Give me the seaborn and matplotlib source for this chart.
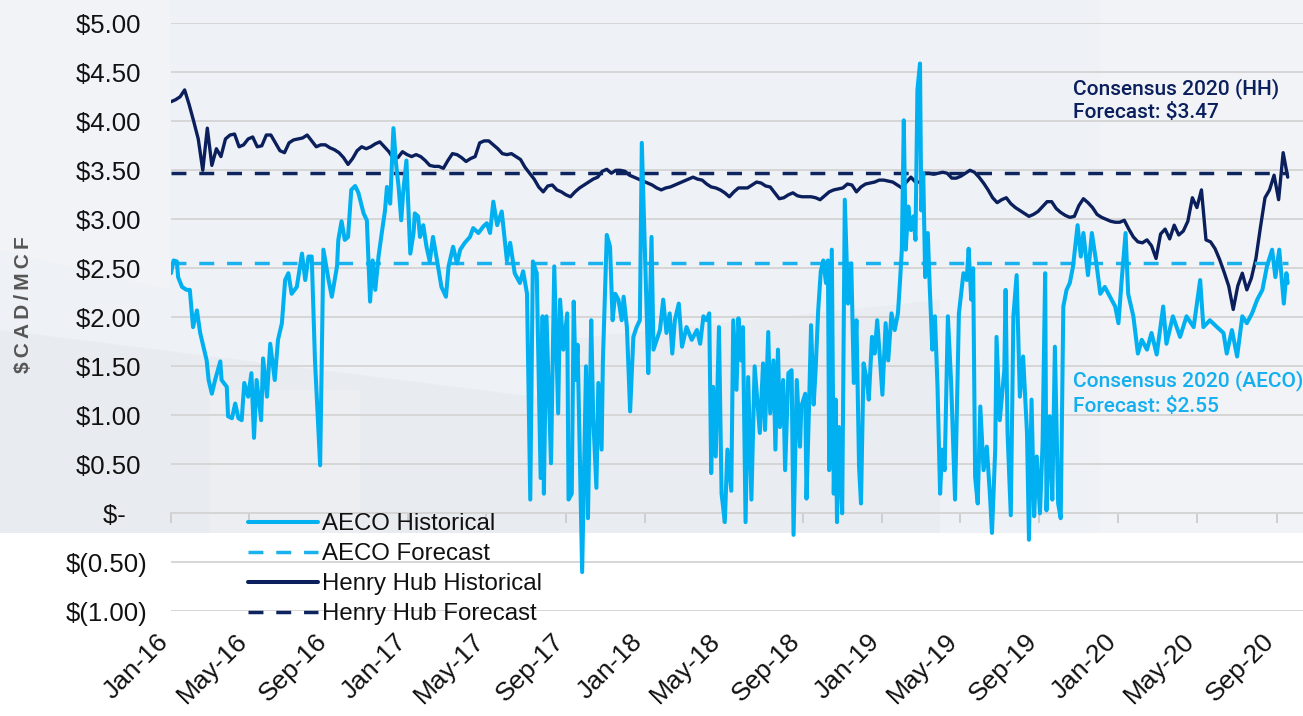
import matplotlib
matplotlib.use("Agg")
import matplotlib.pyplot as plt
import matplotlib.dates as mdates
import matplotlib.transforms as mtransforms
from matplotlib.ticker import FuncFormatter, MultipleLocator
from matplotlib.patches import Rectangle, Polygon
from matplotlib.font_manager import FontProperties
from matplotlib.lines import Line2D
import pandas as pd
import seaborn as sns

# ---------------------------------------------------------------- data
START = pd.Timestamp("2016-01-01")

# AECO daily settlements: day offset from 1 Jan 2016, price in $CAD/MCF
aeco_day = [
    0, 4, 9, 11, 17, 24, 29, 34, 40, 45,
    50, 55, 58, 63, 68, 76, 78, 86, 88, 94,
    99, 104, 109, 113, 119, 124, 128, 132, 139, 142,
    148, 153, 160, 165, 171, 176, 181, 186, 194, 202,
    207, 212, 217, 222, 230, 235, 243, 248, 256, 258,
    263, 268, 273, 278, 284, 289, 297, 302, 307, 311,
    315, 320, 325, 330, 333, 338, 343, 347, 351, 355,
    358, 363, 369, 374, 376, 381, 384, 389, 394, 399,
    404, 411, 417, 424, 428, 435, 441, 446, 453, 461,
    466, 474, 482, 487, 492, 497, 503, 510, 518, 523,
    530, 538, 543, 549, 554, 558, 564, 570, 573, 575,
    579, 586, 591, 597, 600, 605, 611, 613, 618, 621,
    624, 627, 634, 637, 640, 643, 648, 651, 656, 659,
    664, 666, 672, 677, 681, 685, 690, 695, 698, 703,
    708, 713, 718, 723, 726, 730, 734, 736, 741, 744,
    749, 754, 759, 764, 769, 773, 777, 783, 788, 795,
    803, 811, 816, 821, 826, 830, 833, 836, 840, 845,
    849, 854, 858, 864, 867, 872, 875, 879, 882, 886,
    890, 895, 900, 908, 913, 916, 921, 924, 929, 932,
    936, 939, 944, 947, 952, 957, 960, 965, 970, 972,
    978, 980, 984, 987, 991, 994, 998, 1002, 1006, 1010,
    1013, 1015, 1019, 1022, 1025, 1027, 1030, 1035, 1039, 1044,
    1049, 1053, 1057, 1061, 1064, 1068, 1073, 1076, 1081, 1085,
    1089, 1093, 1097, 1102, 1106, 1111, 1116, 1121, 1124, 1127,
    1130, 1133, 1137, 1141, 1145, 1148, 1151, 1155, 1157, 1160,
    1163, 1167, 1170, 1174, 1178, 1182, 1186, 1189, 1193, 1198,
    1203, 1209, 1215, 1222, 1227, 1230, 1234, 1237, 1240, 1244,
    1248, 1253, 1258, 1263, 1266, 1271, 1273, 1278, 1285, 1287,
    1290, 1295, 1299, 1304, 1309, 1314, 1320, 1323, 1327, 1331,
    1335, 1340, 1344, 1348, 1350, 1355, 1359, 1363, 1368, 1372,
    1376, 1381, 1386, 1391, 1398, 1403, 1407, 1414, 1420, 1427,
    1433, 1440, 1448, 1456, 1461, 1466, 1472, 1476, 1484, 1491,
    1497, 1505, 1512, 1520, 1530, 1535, 1545, 1556, 1566, 1577,
    1587, 1592, 1602, 1613, 1623, 1628, 1636, 1644, 1652, 1659,
    1667, 1675, 1683, 1690, 1698, 1703, 1709, 1716, 1720, 1722,
]
aeco_price = [
    2.45, 2.58, 2.57, 2.41, 2.31, 2.28, 2.28, 1.90, 2.07, 1.84,
    1.70, 1.56, 1.36, 1.22, 1.36, 1.55, 1.36, 1.29, 0.99, 0.97,
    1.12, 0.97, 0.95, 1.33, 1.19, 1.43, 0.77, 1.36, 0.95, 1.58,
    1.19, 1.73, 1.36, 1.77, 1.94, 2.38, 2.45, 2.24, 2.31, 2.65,
    2.38, 2.62, 2.62, 1.56, 0.49, 2.69, 2.38, 2.21, 2.52, 2.79,
    2.98, 2.79, 2.82, 3.30, 3.34, 3.27, 3.06, 2.99, 2.16, 2.58,
    2.28, 2.62, 2.86, 3.09, 3.33, 3.16, 3.93, 3.57, 3.33, 2.99,
    3.27, 3.60, 2.65, 2.86, 3.06, 3.03, 2.82, 2.94, 2.72, 2.57,
    2.82, 2.55, 2.31, 2.21, 2.52, 2.72, 2.55, 2.69, 2.76, 2.82,
    2.91, 2.86, 2.93, 2.96, 2.86, 3.18, 2.94, 3.08, 2.58, 2.76,
    2.45, 2.35, 2.47, 2.24, 0.14, 2.57, 2.45, 0.36, 2.01, 0.20,
    2.01, 0.51, 2.52, 1.02, 2.18, 1.67, 2.04, 0.14, 0.20, 2.16,
    1.36, 1.72, -0.60, 0.44, 1.50, -0.05, 1.97, 0.99, 0.26, 1.33,
    0.65, 1.56, 2.84, 2.72, 1.97, 2.24, 2.18, 1.97, 2.21, 1.90,
    1.04, 1.80, 1.90, 1.97, 3.78, 2.86, 1.94, 1.43, 2.82, 1.67,
    1.77, 1.87, 2.18, 1.84, 2.04, 1.63, 1.97, 2.14, 1.70, 1.90,
    1.77, 1.87, 1.73, 2.01, 1.97, 2.04, 0.41, 1.29, 0.58, 1.90,
    0.20, -0.09, 0.65, 0.23, 1.97, 1.26, 1.99, 1.56, 1.90, -0.09,
    1.39, 0.14, 1.50, 0.82, 1.53, 0.85, 1.85, 1.02, 1.56, 0.65,
    1.67, 0.88, 1.36, 0.44, 1.43, 1.46, -0.22, 1.36, 0.68, 1.09,
    1.22, 0.15, 1.12, 1.92, 1.11, 1.46, 2.07, 2.47, 2.58, 2.35,
    2.58, 0.44, 2.69, 0.20, 1.16, -0.09, 0.88, 0.00, 3.20, 2.14,
    2.55, 1.33, 1.97, 0.48, 0.10, 1.53, 1.36, 1.16, 1.80, 1.63,
    1.97, 1.60, 1.21, 1.94, 1.56, 2.04, 1.87, 2.04, 2.35, 2.69,
    4.01, 2.69, 3.13, 2.89, 3.03, 2.79, 4.32, 4.59, 3.09, 3.47,
    2.41, 2.86, 2.31, 1.67, 2.01, 1.29, 0.20, 0.65, 0.44, 2.01,
    1.33, 0.14, 2.04, 2.45, 2.38, 2.70, 2.18, 2.50, 0.37, 0.10,
    1.09, 0.44, 0.68, 0.17, -0.20, 0.65, 1.80, 0.95, 1.46, 2.28,
    0.82, -0.02, 2.01, 2.43, 1.19, 1.60, 0.82, -0.27, 1.16, -0.03,
    0.58, 0.00, 0.71, 2.45, 0.03, 0.99, 0.14, 1.70, 0.10, -0.05,
    2.11, 2.28, 2.35, 2.52, 2.94, 2.62, 2.86, 2.43, 2.86, 2.55,
    2.24, 2.31, 2.21, 2.11, 1.94, 2.38, 2.86, 2.24, 2.01, 1.63,
    1.77, 1.67, 1.84, 1.62, 2.11, 1.73, 2.01, 1.80, 2.01, 1.90,
    2.38, 1.90, 1.97, 1.90, 1.84, 1.63, 1.87, 1.60, 2.01, 1.94,
    2.04, 2.18, 2.28, 2.52, 2.69, 2.41, 2.69, 2.14, 2.45, 2.35,
]

# Henry Hub, weekly, converted to $CAD/MCF (first week of Jan 2016 onward)
hh_price = [
    4.20, 4.22, 4.25, 4.32, 4.17, 4.00, 3.82, 3.50, 3.93, 3.55,
    3.72, 3.64, 3.82, 3.86, 3.87, 3.74, 3.76, 3.82, 3.84, 3.74,
    3.75, 3.86, 3.86, 3.78, 3.70, 3.68, 3.78, 3.81, 3.82, 3.83,
    3.86, 3.80, 3.74, 3.76, 3.76, 3.73, 3.71, 3.68, 3.63, 3.56,
    3.62, 3.70, 3.74, 3.72, 3.74, 3.77, 3.79, 3.74, 3.69, 3.62,
    3.63, 3.69, 3.66, 3.64, 3.66, 3.64, 3.60, 3.55, 3.54, 3.54,
    3.52, 3.60, 3.67, 3.66, 3.63, 3.59, 3.62, 3.64, 3.78, 3.80,
    3.80, 3.76, 3.72, 3.67, 3.66, 3.67, 3.64, 3.61, 3.53, 3.47,
    3.41, 3.33, 3.28, 3.34, 3.35, 3.30, 3.28, 3.25, 3.23, 3.28,
    3.32, 3.35, 3.38, 3.41, 3.43, 3.49, 3.51, 3.47, 3.50, 3.50,
    3.49, 3.45, 3.43, 3.41, 3.39, 3.37, 3.35, 3.32, 3.30, 3.32,
    3.33, 3.35, 3.37, 3.39, 3.41, 3.43, 3.41, 3.40, 3.36, 3.33,
    3.32, 3.30, 3.27, 3.23, 3.28, 3.32, 3.32, 3.32, 3.35, 3.38,
    3.37, 3.34, 3.33, 3.27, 3.21, 3.22, 3.25, 3.27, 3.24, 3.23,
    3.23, 3.23, 3.22, 3.20, 3.24, 3.28, 3.30, 3.31, 3.32, 3.36,
    3.35, 3.28, 3.33, 3.36, 3.37, 3.38, 3.40, 3.40, 3.39, 3.38,
    3.35, 3.32, 3.38, 3.43, 3.38, 3.38, 3.47, 3.47, 3.46, 3.47,
    3.48, 3.47, 3.42, 3.42, 3.44, 3.47, 3.50, 3.48, 3.43, 3.37,
    3.30, 3.22, 3.17, 3.20, 3.22, 3.16, 3.12, 3.09, 3.06, 3.03,
    3.05, 3.08, 3.13, 3.18, 3.18, 3.11, 3.07, 3.04, 3.02, 3.03,
    3.14, 3.21, 3.17, 3.12, 3.05, 3.02, 3.00, 2.98, 2.97, 2.97,
    2.99, 2.90, 2.82, 2.77, 2.76, 2.79, 2.73, 2.60, 2.85, 2.90,
    2.80, 2.94, 2.84, 2.88, 2.98, 3.22, 3.12, 3.30, 2.79, 2.77,
    2.70, 2.59, 2.46, 2.32, 2.08, 2.32, 2.45, 2.28, 2.40, 2.60,
    2.92, 3.22, 3.30, 3.45, 3.20, 3.68, 3.43,
]

aeco_forecast = 2.55
hh_forecast = 3.47

series_labels = ["AECO Historical", "AECO Forecast",
                 "Henry Hub Historical", "Henry Hub Forecast"]
hh_note = ["Consensus 2020 (HH)", f"Forecast: ${hh_forecast:.2f}"]
aeco_note = ["Consensus 2020 (AECO)", f"Forecast: ${aeco_forecast:.2f}"]
y_title = "$CAD/MCF"

# ---------------------------------------------------------------- frames
aeco = pd.DataFrame({"date": START + pd.to_timedelta(aeco_day, unit="D"),
                     "price": aeco_price})
hh = pd.DataFrame({"date": pd.date_range(START, periods=len(hh_price), freq="7D"),
                   "price": hh_price})
span = [aeco["date"].iloc[0], aeco["date"].iloc[-1]]
aeco_fc = pd.DataFrame({"date": span, "price": [aeco_forecast] * 2})
hh_fc = pd.DataFrame({"date": span, "price": [hh_forecast] * 2})

# ---------------------------------------------------------------- style
sns.set_theme(style="white")
plt.rcParams["font.family"] = ["Liberation Sans", "DejaVu Sans"]

AECO_C = "#00b0f0"
AECO_FC_C = "#1ab2ee"
HH_C = "#0a1f5c"
HH_FC_C = "#0d245e"
GRID_C = "#d6d6d6"
DASH = (0, (4.3, 3.7))

W, H = 1303, 716
fig = plt.figure(figsize=(W / 100, H / 100), dpi=100, facecolor="white")


def fpos(x, y):
    return (x / W, 1 - y / H)


# soft backdrop behind the upper part of the chart
fig.patches.append(Rectangle(fpos(0, 533), 1, 533 / H, transform=fig.transFigure,
                             facecolor="#eef1f5", edgecolor="none", zorder=-10))
for pts, col, a in [
    ([(0, 330), (560, 400), (560, 533), (0, 533)], "#e4e7eb", 0.55),
    ([(560, 340), (940, 300), (940, 533), (560, 533)], "#e3e6ea", 0.45),
    ([(1100, 0), (1303, 0), (1303, 533), (1100, 533)], "#f4f6f8", 0.6),
    ([(0, 0), (170, 0), (170, 290), (0, 250)], "#f4f5f8", 0.7),
    ([(210, 390), (360, 390), (360, 533), (210, 533)], "#f0f2f5", 0.5),
]:
    fig.patches.append(Polygon([fpos(*p) for p in pts], closed=True,
                               transform=fig.transFigure, facecolor=col,
                               edgecolor="none", alpha=a, zorder=-9))

ax = fig.add_axes([171 / W, 1 - 611.3 / H, 1 - 171 / W, (611.3 - 23.3) / H])
ax.set_facecolor("none")

# ---------------------------------------------------------------- series
sns.lineplot(data=hh, x="date", y="price", ax=ax, color=HH_C, linewidth=2.4,
             estimator=None, sort=False, zorder=3)
sns.lineplot(data=aeco_fc, x="date", y="price", ax=ax, color=AECO_FC_C,
             linewidth=2.5, linestyle=DASH, estimator=None, zorder=4)
sns.lineplot(data=hh_fc, x="date", y="price", ax=ax, color=HH_FC_C,
             linewidth=2.5, linestyle=DASH, estimator=None, zorder=4)
sns.lineplot(data=aeco, x="date", y="price", ax=ax, color=AECO_C, linewidth=2.9,
             estimator=None, sort=False, zorder=5)

# ---------------------------------------------------------------- axes
ax.set_ylim(-1, 5)
ax.set_xlim(START, START + pd.Timedelta(days=1745.6))
ax.yaxis.set_major_locator(MultipleLocator(0.5))


def money(v, _):
    if abs(v) < 1e-9:
        return "$-   "
    if v < 0:
        return f"$({abs(v):.2f})"
    return f"${v:.2f} "


ax.yaxis.set_major_formatter(FuncFormatter(money))
ax.grid(axis="y", color=GRID_C, linewidth=1.4)
ax.grid(axis="x", visible=False)
for s in ax.spines.values():
    s.set_visible(False)

ax.xaxis.set_major_locator(mdates.MonthLocator(bymonth=[1, 5, 9], bymonthday=1))
ax.xaxis.set_major_formatter(mdates.DateFormatter("%b-%y"))
ax.tick_params(axis="x", length=0, pad=19, labelsize=19, labelcolor="#111111")
ax.tick_params(axis="y", length=0, pad=17, labelsize=18.5, labelcolor="#111111")
ax.set_xlabel("")
ax.set_ylabel("")

# zero line with tick marks
zero_axis = ax.secondary_xaxis(1 / 6)
zero_axis.xaxis.set_major_locator(mdates.MonthLocator(bymonth=[1, 5, 9], bymonthday=1))
zero_axis.tick_params(axis="x", direction="out", length=7, width=1.4,
                      color="#cfcfcf", labelbottom=False, labeltop=False,
                      bottom=True, top=False)
zero_axis.xaxis.set_ticklabels([])
for name, s in zero_axis.spines.items():
    s.set_visible(name == "bottom")
zero_axis.spines["bottom"].set_color("#cfcfcf")
zero_axis.spines["bottom"].set_linewidth(1.4)

# ---------------------------------------------------------------- legend
handles = [
    Line2D([], [], color=AECO_C, linewidth=2.9),
    Line2D([], [], color=AECO_FC_C, linewidth=2.5, linestyle=DASH),
    Line2D([], [], color=HH_C, linewidth=2.9),
    Line2D([], [], color=HH_FC_C, linewidth=2.5, linestyle=DASH),
]
leg_font = FontProperties(family=["Liberation Sans Narrow", "Liberation Sans"], size=17.3)
leg = ax.legend(handles, series_labels, loc="upper left",
                bbox_to_anchor=((248 - 171) / (W - 171), (611.3 - 513.5) / 588),
                frameon=False, prop=leg_font, handlelength=2.92, handletextpad=0.17,
                labelspacing=0.33, borderpad=0, borderaxespad=0)
for t in leg.get_texts():
    t.set_color("#111111")

# ---------------------------------------------------------------- notes
note_font = dict(family=["Roboto", "DejaVu Sans"], fontweight="medium", fontsize=15)
for txt, yb in zip(hh_note, [94.5, 118.5]):
    fig.text(*fpos(1073, yb), txt, color=HH_C, ha="left", va="baseline", **note_font)
for txt, yb in zip(aeco_note, [386.5, 411.5]):
    fig.text(*fpos(1073, yb), txt, color="#14afee", ha="left", va="baseline", **note_font)

fig.text(*fpos(24, 305), "\u2009".join(y_title), rotation=90, ha="center",
         va="center", fontsize=15, fontweight="bold", color="#555555",
         family=["Liberation Sans", "DejaVu Sans"])

# rotated month labels sit just left of their tick
fig.canvas.draw()
shift = mtransforms.ScaledTranslation(-6 / 100, 0, fig.dpi_scale_trans)
for lab in ax.get_xticklabels():
    lab.set_rotation(45)
    lab.set_ha("right")
    lab.set_va("center")
    lab.set_rotation_mode("anchor")
    lab.set_transform(lab.get_transform() + shift)

fig.savefig("out.png", dpi=100, facecolor=fig.get_facecolor())
